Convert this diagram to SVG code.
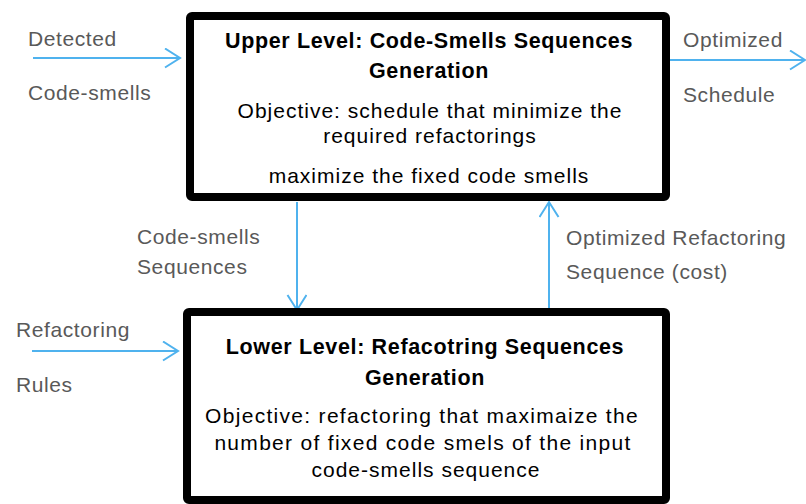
<svg xmlns="http://www.w3.org/2000/svg" width="806" height="504" viewBox="0 0 806 504">
<style>
.box{fill:#fff;stroke:#000;stroke-width:8;}
.conn{fill:none;stroke:#4fb2ee;stroke-width:2;}
.lbl{font-family:"Liberation Sans",Arial,sans-serif;font-size:21px;fill:#595959;letter-spacing:0.6px;}
.ttl{font-family:"Liberation Sans",Arial,sans-serif;font-size:21.5px;font-weight:bold;fill:#000;text-anchor:middle;letter-spacing:0.65px;}
.txt{font-family:"Liberation Sans",Arial,sans-serif;font-size:21px;fill:#000;text-anchor:middle;letter-spacing:1px;}
.txt2{letter-spacing:1.3px;}
</style>
<defs>
<marker id="arr" markerUnits="userSpaceOnUse" markerWidth="20" markerHeight="24" refX="16" refY="10" orient="auto" viewBox="0 0 20 24">
<path d="M1,0.5 L16,10 L1,19.5" fill="none" stroke="#4fb2ee" stroke-width="2"/>
</marker>
</defs>
<g id="connectors">
<line class="conn" x1="33" y1="58" x2="180" y2="58" marker-end="url(#arr)"/>
<line class="conn" x1="668" y1="60" x2="805" y2="60" marker-end="url(#arr)"/>
<line class="conn" x1="297" y1="202" x2="297" y2="310" marker-end="url(#arr)"/>
<line class="conn" x1="549" y1="309" x2="549" y2="202" marker-end="url(#arr)"/>
<line class="conn" x1="32" y1="351" x2="178" y2="351" marker-end="url(#arr)"/>
</g>
<g id="labels">
<text class="lbl" x="28" y="46">Detected</text>
<text class="lbl" x="28" y="100">Code-smells</text>
<text class="lbl" x="683" y="47">Optimized</text>
<text class="lbl" x="683" y="102">Schedule</text>
<text class="lbl" x="137" y="244">Code-smells</text>
<text class="lbl" x="137" y="274">Sequences</text>
<text class="lbl" x="566" y="245">Optimized Refactoring</text>
<text class="lbl" x="566" y="279">Sequence (cost)</text>
<text class="lbl" x="16" y="337">Refactoring</text>
<text class="lbl" x="16" y="392">Rules</text>
</g>
<g id="upper">
<rect class="box" x="190" y="16" width="476" height="181" rx="2"/>
<text class="ttl" x="429" y="48">Upper Level: Code-Smells Sequences</text>
<text class="ttl" x="429" y="78">Generation</text>
<text class="txt" x="430" y="118">Objective: schedule that minimize the</text>
<text class="txt" x="430" y="143">required refactorings</text>
<text class="txt" x="429" y="183">maximize the fixed code smells</text>
</g>
<g id="lower">
<rect class="box" x="187" y="312" width="479" height="188" rx="2"/>
<text class="ttl" x="425" y="354">Lower Level: Refacotring Sequences</text>
<text class="ttl" x="425" y="385">Generation</text>
<text class="txt txt2" x="422" y="423">Objective: refactoring that maximaize the</text>
<text class="txt txt2" x="423" y="450">number of fixed code smels of the input</text>
<text class="txt" x="426" y="477">code-smells sequence</text>
</g>
</svg>
